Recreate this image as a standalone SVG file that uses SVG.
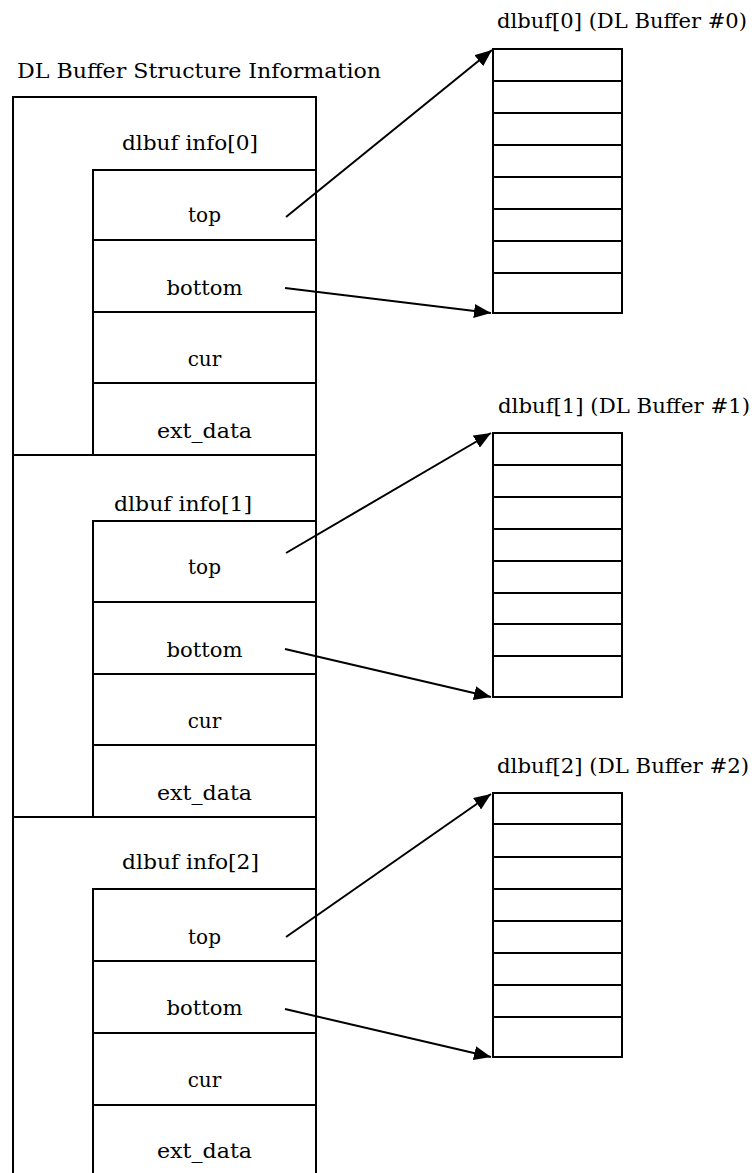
<svg xmlns="http://www.w3.org/2000/svg" width="755" height="1173" viewBox="0 0 755 1173">
<style>
  .box{fill:none;stroke:#000;stroke-width:2}
  .ln{stroke:#000;stroke-width:2;fill:none}
  .t{font-family:"DejaVu Serif","Liberation Serif",serif;font-size:20px;fill:#000}
  .c{text-anchor:middle}
  .arr{stroke:#000;stroke-width:2;fill:none;marker-end:url(#ah)}
</style>
<defs>
  <marker id="ah" markerWidth="17" markerHeight="14" refX="17" refY="7" orient="auto" markerUnits="userSpaceOnUse">
    <path d="M0,0 L17,7 L0,14 z" fill="#000"/>
  </marker>
</defs>
<rect width="755" height="1173" fill="#fff"/>

<text class="t" x="17" y="78" textLength="364" lengthAdjust="spacingAndGlyphs">DL Buffer Structure Information</text>

<g id="dlbuf_info0">
  <rect class="box" x="13" y="97" width="303" height="358"/>
  <text class="t" x="122" y="150" textLength="136" lengthAdjust="spacingAndGlyphs">dlbuf info[0]</text>
  <rect class="box" x="93" y="170" width="223" height="285"/>
  <line class="ln" x1="93" y1="240" x2="316" y2="240"/>
  <line class="ln" x1="93" y1="312" x2="316" y2="312"/>
  <line class="ln" x1="93" y1="383" x2="316" y2="383"/>
  <text class="t c" x="204.5" y="222">top</text>
  <text class="t c" x="204.5" y="295" textLength="76" lengthAdjust="spacingAndGlyphs">bottom</text>
  <text class="t c" x="204.5" y="366">cur</text>
  <text class="t c" x="204.5" y="438" textLength="95" lengthAdjust="spacingAndGlyphs">ext_data</text>
</g>

<g id="dlbuf_info1">
  <rect class="box" x="13" y="455" width="303" height="362"/>
  <text class="t" x="114" y="511" textLength="138" lengthAdjust="spacingAndGlyphs">dlbuf info[1]</text>
  <rect class="box" x="93" y="521" width="223" height="296"/>
  <line class="ln" x1="93" y1="602" x2="316" y2="602"/>
  <line class="ln" x1="93" y1="674" x2="316" y2="674"/>
  <line class="ln" x1="93" y1="745" x2="316" y2="745"/>
  <text class="t c" x="204.5" y="574">top</text>
  <text class="t c" x="204.5" y="657" textLength="76" lengthAdjust="spacingAndGlyphs">bottom</text>
  <text class="t c" x="204.5" y="728">cur</text>
  <text class="t c" x="204.5" y="800" textLength="95" lengthAdjust="spacingAndGlyphs">ext_data</text>
</g>

<g id="dlbuf_info2">
  <rect class="box" x="13" y="817" width="303" height="370"/>
  <text class="t" x="122" y="869" textLength="137" lengthAdjust="spacingAndGlyphs">dlbuf info[2]</text>
  <rect class="box" x="93" y="889" width="223" height="298"/>
  <line class="ln" x1="93" y1="961" x2="316" y2="961"/>
  <line class="ln" x1="93" y1="1033" x2="316" y2="1033"/>
  <line class="ln" x1="93" y1="1105" x2="316" y2="1105"/>
  <text class="t c" x="204.5" y="944">top</text>
  <text class="t c" x="204.5" y="1015" textLength="76" lengthAdjust="spacingAndGlyphs">bottom</text>
  <text class="t c" x="204.5" y="1087">cur</text>
  <text class="t c" x="204.5" y="1158" textLength="95" lengthAdjust="spacingAndGlyphs">ext_data</text>
</g>

<g id="dlbuf0">
  <text class="t" x="497" y="28" textLength="250" lengthAdjust="spacingAndGlyphs">dlbuf[0] (DL Buffer #0)</text>
  <rect class="box" x="493" y="49" width="129" height="264"/>
  <path class="ln" d="M493,81H622M493,113H622M493,145H622M493,177H622M493,209H622M493,241H622M493,273H622"/>
</g>

<g id="dlbuf1">
  <text class="t" x="498" y="413" textLength="252" lengthAdjust="spacingAndGlyphs">dlbuf[1] (DL Buffer #1)</text>
  <rect class="box" x="493" y="433" width="129" height="264"/>
  <path class="ln" d="M493,465H622M493,497H622M493,529H622M493,561H622M493,593H622M493,624H622M493,656H622"/>
</g>

<g id="dlbuf2">
  <text class="t" x="497" y="773" textLength="252" lengthAdjust="spacingAndGlyphs">dlbuf[2] (DL Buffer #2)</text>
  <rect class="box" x="493" y="793" width="129" height="264"/>
  <path class="ln" d="M493,824H622M493,857H622M493,889H622M493,921H622M493,953H622M493,985H622M493,1017H622"/>
</g>

<g id="connectors">
  <line class="arr" x1="286" y1="217" x2="492" y2="50"/>
  <line class="arr" x1="285" y1="288" x2="491" y2="313"/>
  <line class="arr" x1="286" y1="553" x2="491" y2="433"/>
  <line class="arr" x1="285" y1="649" x2="491" y2="697"/>
  <line class="arr" x1="286" y1="937" x2="491" y2="794"/>
  <line class="arr" x1="285" y1="1009" x2="491" y2="1057"/>
</g>
</svg>
